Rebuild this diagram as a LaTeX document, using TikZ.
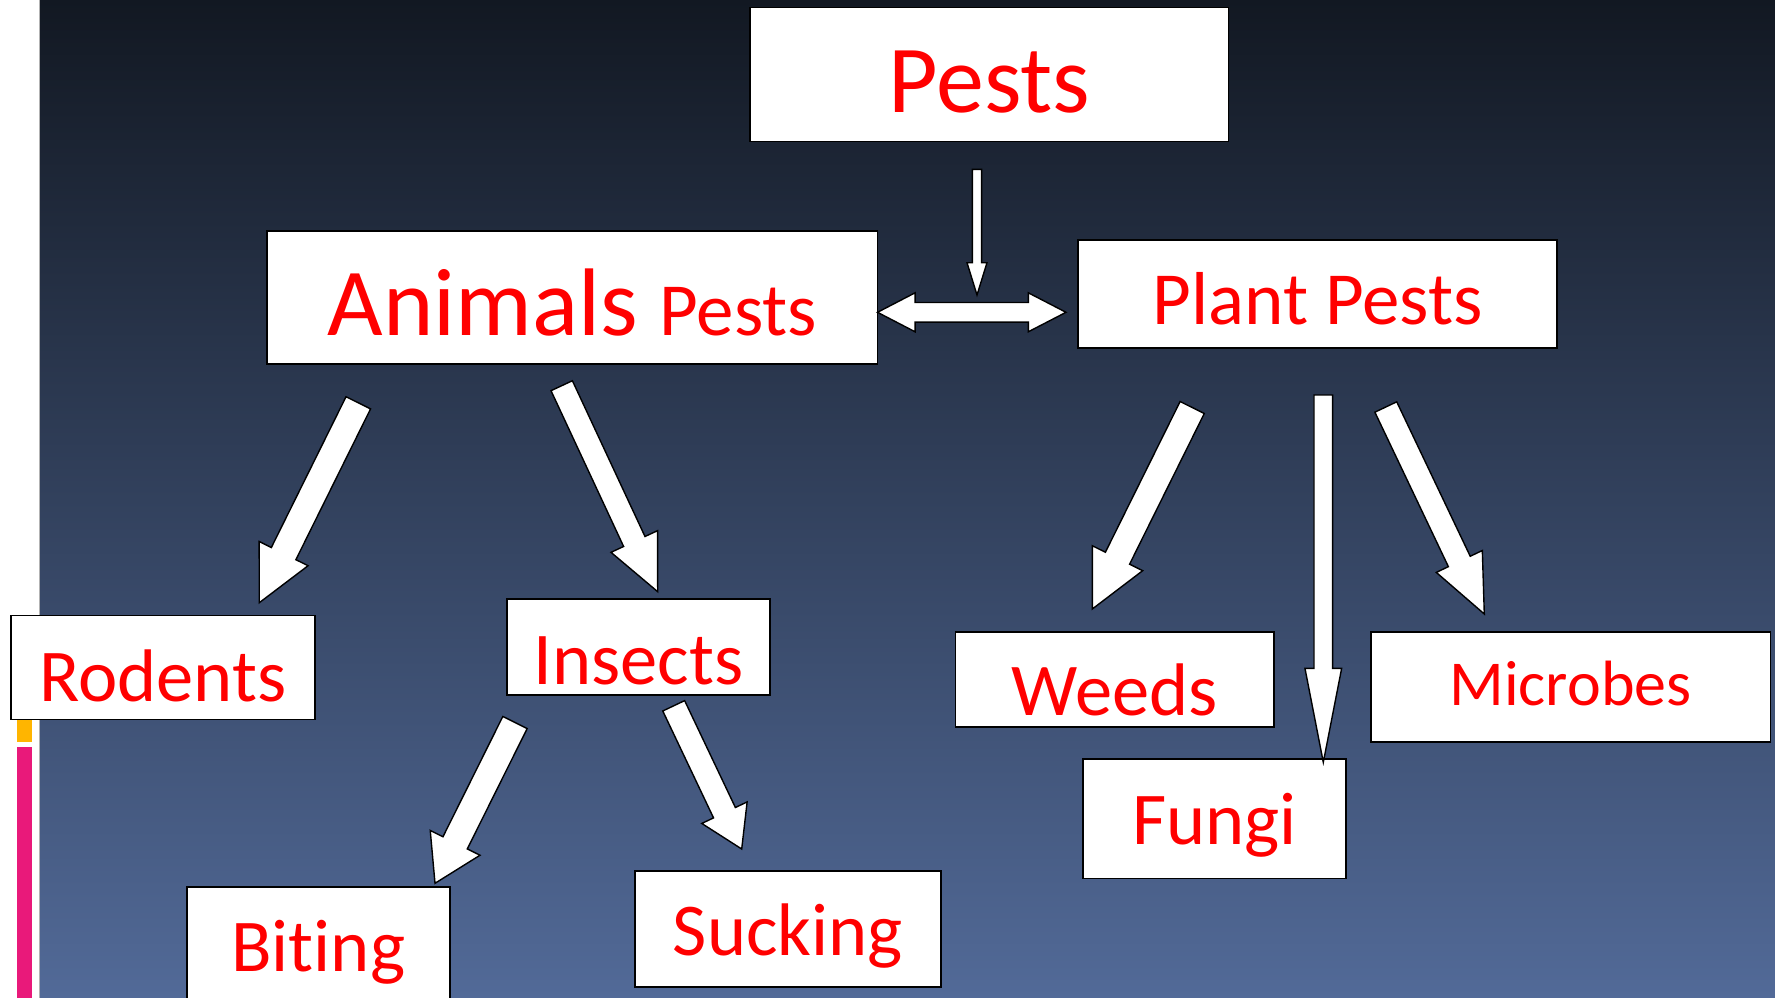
\documentclass[tikz,border=0pt]{standalone}
\usepackage{fontspec}
\setmainfont{Carlito}[Ligatures={NoCommon,NoRare,NoContextual}, RawFeature=-calt]
\usetikzlibrary{calc}
\definecolor{bgtop}{RGB}{18,24,34}
\definecolor{bgbot}{RGB}{82,106,152}
\definecolor{txtred}{RGB}{255,0,0}
\definecolor{barY}{RGB}{255,181,0}
\definecolor{barP}{RGB}{233,25,122}
\tikzset{
  box/.style={draw=black, fill=white, line width=1.8pt, rectangle, inner sep=0pt, outer sep=0pt},
  lbl/.style={text=txtred, anchor=base, inner sep=0pt},
  barrow/.style={draw=black, fill=white, line width=1.4pt, line join=miter},
}
\newcommand\BigF{\fontsize{96}{100}\selectfont}
\newcommand\MedF{\fontsize{75}{80}\selectfont}
\newcommand\SmF{\fontsize{74.5}{78}\selectfont}
\newcommand\MicF{\fontsize{64}{68}\selectfont}
% \boxnode{name}{x1}{y1}{x2}{y2}
\newcommand\boxnode[5]{%
  \node[box, minimum width={(#4-#2)*1pt}, minimum height={(#5-#3)*1pt}] (#1) at ({(#2+#4)/2},{(#3+#5)/2}) {};}
% \blockarrow{tail}{tip}{shaft half width}{head half width}{head length}
\newcommand\blockarrow[5]{%
  \path ($(#2)!#5!(#1)$) coordinate (hb);
  \draw[barrow] ($(#1)!#3!90:(#2)$) -- ($(hb)!#3!90:(#2)$) -- ($(hb)!#4!90:(#2)$)
    -- (#2) -- ($(hb)!#4!-90:(#2)$) -- ($(hb)!#3!-90:(#2)$) -- ($(#1)!#3!-90:(#2)$) -- cycle;}
\begin{document}
\begin{tikzpicture}[x=1pt,y=-1pt]
\useasboundingbox (0,0) rectangle (1775,998);
\clip (0,0) rectangle (1775,998);
% background
\fill[white] (0,0) rectangle (1775,998);
\shade[top color=bgtop, bottom color=bgbot] (40,0) rectangle (1775,998);
\draw[gray!60, line width=0.8pt] (39.6,0) -- (39.6,998);
\fill[barY] (16.5,690) rectangle (31.8,741.8);
\fill[barP] (16.5,746.8) rectangle (31.8,998);

% boxes
\boxnode{pests}{750}{7.5}{1228.5}{141.5}
\boxnode{animals}{266.8}{231}{877.5}{364.3}
\boxnode{plant}{1078.3}{240}{1556.7}{348.3}
\boxnode{rodents}{11}{615.5}{314.7}{719.5}
\boxnode{insects}{506.7}{599}{770}{695}
\boxnode{biting}{186.7}{886.7}{450}{1010}
\boxnode{sucking}{635}{871}{941}{986.7}
\boxnode{weeds}{955.4}{631.7}{1274.3}{727.3}
\boxnode{microbes}{1370.7}{631.7}{1770.4}{742.3}
\boxnode{fungi}{1083.3}{759}{1346}{878.4}

% labels
\node[lbl] (tPests) at (989.3,112.3) {\BigF Pests};
\node[lbl] (tAnimals) at (572.2,335.7) {{\BigF Animals }{\MedF Pests}};
\node[lbl] (tPlant) at (1317.5,324.3) {\MedF Plant Pests};
\node[lbl] (tRodents) at (162.8,701) {\SmF Rodents};
\node[lbl] (tInsects) at (638.4,684) {\SmF Insects};
\node[lbl] (tWeeds) at (1114.9,715.5) {\SmF Weeds};
\node[lbl] (tMicrobes) at (1570.5,705.5) {\MicF Microbes};
\node[lbl] (tFungi) at (1214.7,844) {\SmF Fungi};
\node[lbl] (tBiting) at (318.3,971) {\SmF Biting};
\node[lbl] (tSucking) at (788,955) {\SmF Sucking};

% arrow end points
\coordinate (aDownT) at (977,169.3);   \coordinate (aDownH) at (977,295);
\coordinate (aRodT) at (358.3,402.8);  \coordinate (aRodH) at (259.3,602.7);
\coordinate (aInsT) at (561.7,385.7);  \coordinate (aInsH) at (657.7,591.7);
\coordinate (aBitT) at (515,722.5);    \coordinate (aBitH) at (435,883.3);
\coordinate (aSucT) at (673.7,705.8);  \coordinate (aSucH) at (741.7,849);
\coordinate (aWeeT) at (1192.2,407.5); \coordinate (aWeeH) at (1092.3,609);
\coordinate (aFunT) at (1323.3,395);   \coordinate (aFunH) at (1323.3,762.3);
\coordinate (aMicT) at (1385.8,407);   \coordinate (aMicH) at (1484.3,614);

\blockarrow{aDownT}{aDownH}{4.65pt}{10pt}{32.3pt}
\blockarrow{aRodT}{aRodH}{13.7pt}{27.3pt}{54.8pt}
\blockarrow{aInsT}{aInsH}{11.8pt}{25.7pt}{55.4pt}
\blockarrow{aBitT}{aBitH}{13.6pt}{27.8pt}{45.2pt}
\blockarrow{aSucT}{aSucH}{12.1pt}{25.1pt}{40.2pt}
\blockarrow{aWeeT}{aWeeH}{13.5pt}{28.1pt}{56.7pt}
\blockarrow{aFunT}{aFunH}{9.35pt}{18.35pt}{94pt}
\blockarrow{aMicT}{aMicH}{12.1pt}{25.5pt}{58.2pt}

% double arrow between Animals Pests and Plant Pests
\coordinate (dL) at (animals.east |- 0,312.3);
\coordinate (dR) at (1066,312.3);
\draw[barrow] (dL) -- ($(dL)+(37.6,-19.5)$) -- ($(dL)+(37.6,-9.8)$)
  -- ($(dR)+(-37.7,-9.8)$) -- ($(dR)+(-37.7,-19.5)$) -- (dR)
  -- ($(dR)+(-37.7,19.5)$) -- ($(dR)+(-37.7,9.8)$)
  -- ($(dL)+(37.6,9.8)$) -- ($(dL)+(37.6,19.5)$) -- cycle;
\end{tikzpicture}
\end{document}
